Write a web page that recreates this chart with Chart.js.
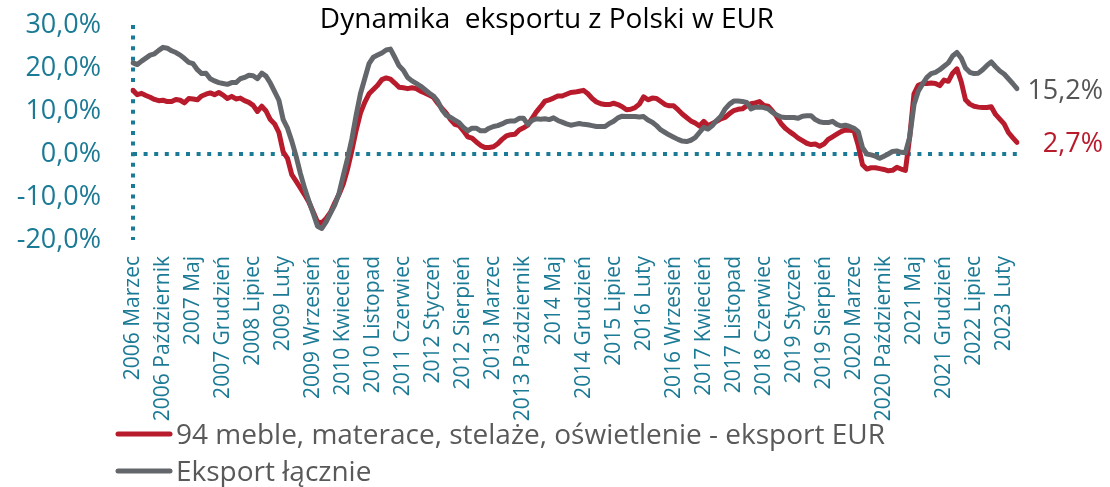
<!DOCTYPE html>
<html>
<head>
<meta charset="utf-8">
<script src="https://cdn.jsdelivr.net/npm/chart.js@4/dist/chart.umd.min.js"></script>
<style>
  html, body { margin: 0; padding: 0; background: #ffffff; }
  #wrap { width: 1110px; height: 487px; position: relative; }
</style>
</head>
<body>
<div id="wrap"><canvas id="c"></canvas></div>
<script>
const chartTitle = 'Dynamika  eksportu z Polski w EUR';
const monthNames = ['Styczeń','Luty','Marzec','Kwiecień','Maj','Czerwiec','Lipiec','Sierpień','Wrzesień','Październik','Listopad','Grudzień'];
const startYear = 2006;
const startMonth = 2; // Marzec

const tickLabels = ['2006 Marzec','2006 Październik','2007 Maj','2007 Grudzień','2008 Lipiec','2009 Luty','2009 Wrzesień','2010 Kwiecień','2010 Listopad','2011 Czerwiec','2012 Styczeń','2012 Sierpień','2013 Marzec','2013 Październik','2014 Maj','2014 Grudzień','2015 Lipiec','2016 Luty','2016 Wrzesień','2017 Kwiecień','2017 Listopad','2018 Czerwiec','2019 Styczeń','2019 Sierpień','2020 Marzec','2020 Październik','2021 Maj','2021 Grudzień','2022 Lipiec','2023 Luty'];

const seriesNames = ['94 meble, materace, stelaże, oświetlenie - eksport EUR', 'Eksport łącznie'];

const meble = [14.8,13.8,14.1,13.6,13.2,12.7,12.4,12.5,12.2,12.2,
12.7,12.5,11.9,12.9,12.8,12.6,13.5,13.9,14.2,13.8,
14.3,13.7,12.9,13.4,12.8,13.0,12.4,12.0,11.3,9.9,
11.1,10.0,8.0,7.0,5.0,0.5,-1.0,-4.8,-6.3,-7.9,
-9.5,-11.2,-13.5,-15.8,-16.0,-15.0,-13.6,-11.4,-9.4,-7.0,
-3.5,0.8,5.5,9.5,12.0,14.0,15.0,16.0,17.3,17.7,
17.4,16.5,15.5,15.4,15.2,15.4,15.2,14.6,14.2,13.7,
13.2,11.8,10.6,9.5,8.0,6.9,6.6,5.4,4.0,3.7,
2.8,2.0,1.5,1.5,1.7,2.4,3.4,4.2,4.5,4.6,
5.6,6.1,6.7,8.3,9.8,11.0,12.3,12.6,13.0,13.5,
13.5,13.9,14.3,14.4,14.6,14.8,14.0,12.9,12.1,11.7,
11.5,11.5,11.8,11.5,11.0,10.3,10.4,10.8,11.6,13.3,
12.6,13.0,12.9,12.2,11.5,11.2,11.2,10.3,9.3,8.5,
7.7,7.2,6.5,7.6,6.6,7.1,7.6,8.2,8.5,9.4,
10.1,10.4,10.5,11.2,11.7,11.9,12.2,11.3,11.1,10.0,
8.7,7.1,6.0,5.2,4.5,3.7,3.1,2.5,2.2,2.3,
1.8,2.3,3.4,4.0,4.6,5.2,5.6,5.5,5.4,2.0,
-2.5,-3.5,-3.2,-3.2,-3.4,-3.6,-3.9,-3.8,-3.1,-3.5,
-3.8,4.0,14.0,16.0,16.4,16.4,16.5,16.4,15.9,17.2,
16.9,18.8,19.8,16.8,12.6,11.6,11.1,10.9,10.8,10.8,
11.0,9.2,8.1,7.0,5.0,3.8,2.7];

const eksport = [21.2,20.8,21.6,22.3,23.0,23.3,24.1,24.8,24.6,24.0,
23.6,23.0,22.2,21.3,21.0,19.6,18.7,18.8,17.5,17.0,
16.6,16.4,16.2,16.6,16.6,17.5,17.8,18.3,18.2,17.5,
18.8,18.1,16.5,14.5,12.5,8.0,6.0,3.0,-0.5,-4.5,
-8.0,-11.0,-13.8,-16.8,-17.3,-15.8,-13.8,-11.9,-9.2,-5.0,
-1.0,3.5,9.0,14.0,17.5,21.0,22.5,23.0,23.5,24.2,
24.4,22.5,20.5,19.5,17.8,17.0,16.4,15.8,15.0,14.2,
13.5,12.3,10.3,9.0,8.5,7.9,7.3,6.2,5.4,6.0,
6.0,5.4,5.4,6.0,6.4,6.6,7.0,7.5,7.7,7.7,
8.3,8.3,6.9,7.8,8.2,8.1,8.2,8.0,8.4,7.8,
7.4,7.0,6.7,6.9,7.1,6.9,6.8,6.6,6.4,6.4,
6.4,7.1,7.6,8.4,8.8,8.7,8.7,8.7,8.6,8.7,
7.9,7.4,6.6,5.6,5.0,4.4,3.9,3.4,3.0,2.9,
3.2,3.8,5.0,6.2,5.8,6.6,7.8,8.8,10.5,11.6,
12.3,12.3,12.2,12.0,10.5,10.9,10.9,10.8,10.5,9.7,
9.1,8.6,8.5,8.5,8.5,8.3,8.8,8.9,8.9,8.0,
7.5,7.3,7.3,7.6,6.9,6.5,6.7,6.4,6.0,5.2,
1.5,0.0,-0.2,-0.5,-1.0,-0.5,0.0,0.6,0.7,0.4,
0.3,4.0,11.5,14.6,16.3,17.8,18.7,19.0,19.6,20.4,
21.2,22.8,23.6,22.3,20.0,19.0,18.7,18.8,19.6,20.6,
21.4,20.3,19.3,18.6,17.5,16.4,15.2];

const categories = meble.map((_, k) => {
  const m = startMonth + k;
  return (startYear + Math.floor(m / 12)) + ' ' + monthNames[m % 12];
});

const RED = '#B81B2C';
const GRAY = '#63666A';
const TEAL = '#1B7A95';
const FONT = "'Open Sans', sans-serif";

const fmtPct = v => v.toFixed(1).replace('.', ',') + '%';

const overlay = {
  id: 'overlay',
  afterDraw(chart) {
    const { ctx, chartArea } = chart;
    ctx.save();
    // title
    ctx.fillStyle = '#000000';
    ctx.font = "28px " + FONT;
    ctx.textAlign = 'center';
    ctx.textBaseline = 'alphabetic';
    ctx.fillText(chartTitle, 547, 28);

    // end labels
    const endColors = [RED, '#555555'];
    chart.data.datasets.forEach((ds, di) => {
      const meta = chart.getDatasetMeta(di);
      const pt = meta.data[meta.data.length - 1];
      ctx.font = "27px " + FONT;
      ctx.fillStyle = endColors[di];
      ctx.textAlign = 'right';
      ctx.fillText(fmtPct(ds.data[ds.data.length - 1]), chartArea.right + 86, pt.y + 10);
    });

    // legend
    const legendY = [434, 471];
    chart.data.datasets.forEach((ds, di) => {
      const y = legendY[di];
      ctx.strokeStyle = ds.borderColor;
      ctx.lineWidth = 5;
      ctx.lineCap = 'round';
      ctx.beginPath();
      ctx.moveTo(118, y);
      ctx.lineTo(170, y);
      ctx.stroke();
      ctx.font = "28px " + FONT;
      ctx.fillStyle = '#595959';
      ctx.textAlign = 'left';
      ctx.fillText(ds.label, 176, y + 10);
    });
    ctx.restore();
  }
};

new Chart(document.getElementById('c'), {
  type: 'line',
  data: {
    labels: categories,
    datasets: [
      { label: seriesNames[0], data: meble, borderColor: RED, backgroundColor: RED, borderWidth: 5, pointRadius: 0, tension: 0, order: 1, borderJoinStyle: 'round', borderCapStyle: 'round' },
      { label: seriesNames[1], data: eksport, borderColor: GRAY, backgroundColor: GRAY, borderWidth: 5, pointRadius: 0, tension: 0, order: 0, borderJoinStyle: 'round', borderCapStyle: 'round' }
    ]
  },
  options: {
    responsive: true,
    maintainAspectRatio: false,
    animation: false,
    devicePixelRatio: 1,
    layout: { padding: { top: 25, right: 93, bottom: 62, left: 0 } },
    plugins: { legend: { display: false }, title: { display: false }, tooltip: { enabled: false } },
    scales: {
      x: {
        type: 'category',
        offset: false,
        afterFit: s => { s.height = 185; },
        border: { display: false, dash: [4, 6.6] },
        grid: {
          drawTicks: false,
          color: TEAL,
          lineWidth: c => (c.index === 0 ? 4 : 0)
        },
        ticks: {
          autoSkip: false,
          maxRotation: 90,
          minRotation: 90,
          padding: 16,
          color: TEAL,
          font: { family: FONT, size: 21 },
          callback: function (value, index) {
            const lab = this.getLabelForValue(value);
            return tickLabels.includes(lab) ? lab : '';
          }
        }
      },
      y: {
        min: -20,
        max: 30,
        afterFit: s => { s.width = 133; s.paddingTop = 0; s.paddingBottom = 0; },
        border: { display: false, dash: [4, 6.6] },
        grid: {
          drawTicks: false,
          color: TEAL,
          lineWidth: c => (c.tick && c.tick.value === 0 ? 4 : 0)
        },
        ticks: {
          stepSize: 10,
          padding: 32,
          color: TEAL,
          font: { family: FONT, size: 27 },
          callback: v => fmtPct(v)
        }
      }
    }
  },
  plugins: [overlay]
});
</script>
</body>
</html>
